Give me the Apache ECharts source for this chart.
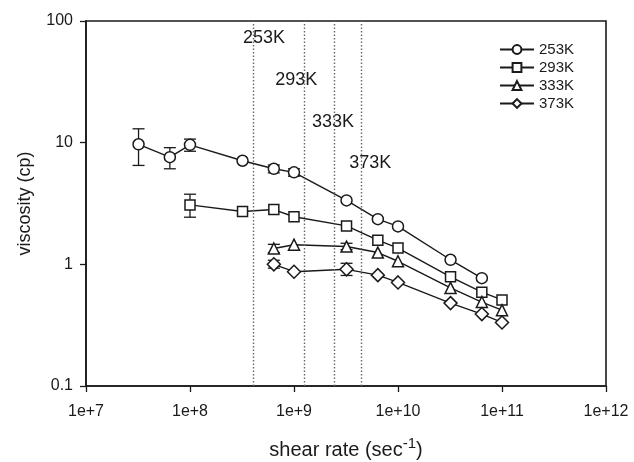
<!DOCTYPE html>
<html>
<head>
<meta charset="utf-8">
<script src="https://cdn.jsdelivr.net/npm/echarts@6/dist/echarts.min.js"></script>
<style>
  html, body { margin: 0; padding: 0; background: #fff; }
  #chart { width: 634px; height: 462px; }
</style>
</head>
<body>
<div id="chart"></div>
<script>
// Shear rate (1/s) and viscosity (cP) for each temperature
const shearRate253 = [3.2e7, 6.4e7, 1e8, 3.2e8, 6.4e8, 1e9, 3.2e9, 6.4e9, 1e10, 3.2e10, 6.4e10];
const visc253 = [9.7, 7.6, 9.6, 7.1, 6.1, 5.7, 3.35, 2.35, 2.05, 1.09, 0.77];

const shearRate293 = [1e8, 3.2e8, 6.4e8, 1e9, 3.2e9, 6.4e9, 1e10, 3.2e10, 6.4e10, 1e11];
const visc293 = [3.08, 2.72, 2.82, 2.46, 2.07, 1.58, 1.36, 0.79, 0.59, 0.51];

const shearRate333 = [6.4e8, 1e9, 3.2e9, 6.4e9, 1e10, 3.2e10, 6.4e10, 1e11];
const visc333 = [1.35, 1.45, 1.40, 1.25, 1.06, 0.64, 0.49, 0.42];

const shearRate373 = [6.4e8, 1e9, 3.2e9, 6.4e9, 1e10, 3.2e10, 6.4e10, 1e11];
const visc373 = [1.0, 0.87, 0.91, 0.815, 0.71, 0.48, 0.39, 0.333];

// Error bars: [shear rate, lower, upper]
const err253 = [[3.2e7, 6.5, 13.0], [6.4e7, 6.1, 9.1], [1e8, 8.5, 10.7], [6.4e8, 5.65, 6.55], [1e9, 5.3, 6.1]];
const err293 = [[1e8, 2.44, 3.77]];
const err333 = [[6.4e8, 1.25, 1.46], [3.2e9, 1.32, 1.49]];
const err373 = [[6.4e8, 0.93, 1.08], [3.2e9, 0.81, 1.02]];

// Critical shear rates (vertical reference lines) and their labels
const criticalRates = [4.06e8, 1.25e9, 2.44e9, 4.48e9];
const tempLabels = [
  { name: '253K', value: [5.15e8, 72] },
  { name: '293K', value: [1.05e9, 32.5] },
  { name: '333K', value: [2.37e9, 14.8] },
  { name: '373K', value: [5.4e9, 6.8] }
];

const seriesNames = ['253K', '293K', '333K', '373K'];
const xTicks = [1e7, 1e8, 1e9, 1e10, 1e11, 1e12];
const yTicks = [0.1, 1, 10, 100];

const INK = '#1a1a1a';
const FONT = 'Liberation Sans, Arial, sans-serif';

function pairs(xs, ys) { return xs.map((x, i) => [x, ys[i]]); }

function errorSeries(data) {
  return {
    type: 'custom',
    data: data,
    z: 1,
    silent: true,
    encode: { x: 0, y: [1, 2] },
    renderItem: function (params, api) {
      const x = api.value(0);
      const lo = api.coord([x, api.value(1)]);
      const hi = api.coord([x, api.value(2)]);
      const w = 6;
      const st = { stroke: INK, lineWidth: 1.3 };
      return {
        type: 'group',
        children: [
          { type: 'line', shape: { x1: lo[0], y1: lo[1], x2: hi[0], y2: hi[1] }, style: st },
          { type: 'line', shape: { x1: hi[0] - w, y1: hi[1], x2: hi[0] + w, y2: hi[1] }, style: st },
          { type: 'line', shape: { x1: lo[0] - w, y1: lo[1], x2: lo[0] + w, y2: lo[1] }, style: st }
        ]
      };
    }
  };
}

function lineSeries(name, data, symbol, size) {
  return {
    name: name,
    type: 'line',
    data: data,
    z: 3,
    symbol: symbol,
    symbolSize: size,
    showAllSymbol: true,
    lineStyle: { color: INK, width: 1.4 },
    itemStyle: { color: '#fff', borderColor: INK, borderWidth: 1.5 },
    emphasis: { disabled: true }
  };
}

const chart = echarts.init(document.getElementById('chart'), null, { renderer: 'canvas' });

const s253 = lineSeries('253K', pairs(shearRate253, visc253), 'circle', 11);
s253.markLine = {
  silent: true,
  symbol: 'none',
  label: { show: false },
  lineStyle: { type: [1.5, 2], color: '#666', width: 1.4 },
  data: criticalRates.map(v => ({ xAxis: v }))
};

chart.setOption({
  animation: false,
  backgroundColor: '#fff',
  textStyle: { fontFamily: FONT, color: INK },
  grid: {
    left: 86, top: 21, right: 28, bottom: 76,
    containLabel: false,
    outerBoundsMode: 'none',
    show: true, borderColor: INK, borderWidth: 1.6, backgroundColor: 'transparent'
  },
  legend: {
    data: seriesNames,
    orient: 'vertical',
    left: 499,
    top: 42,
    padding: 0,
    itemWidth: 34,
    itemHeight: 11,
    itemGap: 3,
    textStyle: { fontSize: 15, color: INK, fontFamily: FONT },
    inactiveColor: INK
  },
  xAxis: {
    type: 'log',
    logBase: 10,
    min: xTicks[0],
    max: xTicks[xTicks.length - 1],
    interval: 1,
    splitLine: { show: false },
    axisLine: { lineStyle: { color: INK, width: 1.6 } },
    axisTick: { inside: false, length: 6, lineStyle: { color: INK, width: 1.3 } },
    axisLabel: {
      fontSize: 16, color: INK, margin: 18,
      formatter: v => '1e+' + Math.round(Math.log10(v))
    },
    name: '{t|shear rate (sec}{s|-1}{t|)}',
    nameLocation: 'middle',
    nameGap: 50,
    nameTextStyle: {
      rich: {
        t: { fontSize: 20, color: INK, fontFamily: FONT, verticalAlign: 'bottom', lineHeight: 24 },
        s: { fontSize: 15, color: INK, fontFamily: FONT, verticalAlign: 'top', lineHeight: 24 }
      }
    }
  },
  yAxis: {
    type: 'log',
    logBase: 10,
    min: yTicks[0],
    max: yTicks[yTicks.length - 1],
    interval: 1,
    splitLine: { show: false },
    axisLine: { lineStyle: { color: INK, width: 1.6 } },
    axisTick: { inside: false, length: 6, lineStyle: { color: INK, width: 1.3 } },
    axisLabel: {
      fontSize: 16, color: INK, margin: 13,
      formatter: v => String(+v.toPrecision(3))
    },
    name: 'viscosity (cp)',
    nameLocation: 'middle',
    nameGap: 52,
    nameTextStyle: { fontSize: 18, color: INK, fontFamily: FONT }
  },
  series: [
    errorSeries(err253),
    errorSeries(err293),
    errorSeries(err333),
    errorSeries(err373),
    s253,
    lineSeries('293K', pairs(shearRate293, visc293), 'rect', 10),
    lineSeries('333K', pairs(shearRate333, visc333), 'triangle', 11),
    lineSeries('373K', pairs(shearRate373, visc373), 'diamond', 13),
    {
      type: 'scatter',
      data: tempLabels,
      symbolSize: 2,
      itemStyle: { color: 'rgba(0,0,0,0)' },
      silent: true,
      z: 4,
      labelLayout: { hideOverlap: false },
      label: {
        show: true,
        position: 'inside',
        formatter: '{b}',
        fontSize: 18,
        color: INK,
        opacity: 1,
        textBorderWidth: 0,
        fontFamily: FONT
      }
    }
  ]
});
</script>
</body>
</html>
